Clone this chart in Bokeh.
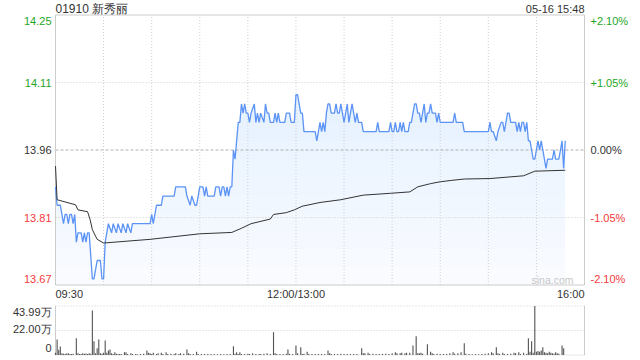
import numpy as np
from bokeh.plotting import figure
from bokeh.models import Range1d
from bokeh.core.properties import value
from bokeh.embed import file_html
from bokeh.resources import INLINE

# ---------------- data ----------------
title = "01910 新秀丽"
stamp = "05-16 15:48"
watermark = "sina.com"
prev_close = 13.96
pct_ticks = [2.10, 1.05, 0.0, -1.05, -2.10]
price_labels = ["14.25", "14.11", "13.96", "13.81", "13.67"]
pct_labels = ["+2.10%", "+1.05%", "0.00%", "-1.05%", "-2.10%"]
time_labels = ["09:30", "12:00/13:00", "16:00"]
time_label_min = [0, 150, 330]
vol_ticks = [43.99, 22.00, 0]
vol_labels = ["43.99万", "22.00万", "0"]

# minute price knots (trading minutes from 09:30, lunch removed)
px_t = [0, 1, 3, 5, 6, 7, 8, 9, 10, 11, 12, 13, 14, 16, 17, 18, 19, 20, 21, 23, 24, 25, 26, 28, 29, 30,
        31, 32, 33, 35, 36, 38, 39, 41, 42, 44, 45, 47, 48, 59, 60, 61, 62, 63, 66, 67, 74, 75, 81, 82,
        84, 85, 87, 88, 89, 90, 92, 93, 94, 95, 99, 100, 102, 103, 104, 105, 106, 107, 108, 109, 110,
        111, 112, 114, 115, 116, 117, 118, 119, 120, 121, 122, 124, 125, 126, 127, 128, 130, 131, 132,
        133, 134, 136, 137, 138, 139, 140, 143, 144, 146, 147, 149, 150, 151, 153, 154, 155, 162, 163,
        164, 165, 166, 167, 168, 169, 170, 171, 172, 174, 175, 176, 177, 178, 179, 180, 181, 182, 183,
        184, 185, 186, 187, 188, 189, 191, 192, 200, 201, 202, 208, 209, 210, 211, 212, 213, 214, 215,
        216, 217, 218, 220, 221, 222, 223, 224, 225, 226, 227, 228, 229, 230, 231, 232, 233, 234, 235,
        237, 238, 239, 240, 248, 249, 250, 254, 255, 270, 271, 272, 273, 275, 276, 278, 279, 280, 281,
        282, 283, 284, 287, 288, 289, 290, 291, 292, 293, 294, 295, 296, 297, 298, 299, 300, 301, 302,
        303, 304, 305, 306, 307, 310, 311, 312, 314, 315, 316, 317, 318]
px_v = [13.88, 13.84, 13.84, 13.80, 13.82, 13.82, 13.80, 13.82, 13.82, 13.80, 13.82, 13.76, 13.78, 13.78,
        13.76, 13.78, 13.76, 13.78, 13.78, 13.68, 13.68, 13.70, 13.72, 13.72, 13.68, 13.68,
        13.76, 13.78, 13.80, 13.78, 13.80, 13.78, 13.80, 13.78, 13.80, 13.78, 13.80, 13.78, 13.80, 13.80,
        13.82, 13.80, 13.82, 13.84, 13.84, 13.86, 13.86, 13.88, 13.88, 13.86,
        13.84, 13.86, 13.84, 13.84, 13.86, 13.88, 13.88, 13.86, 13.88, 13.86, 13.86, 13.88, 13.88, 13.86,
        13.88, 13.88, 13.86, 13.88, 13.86, 13.88, 13.88,
        13.96, 13.94, 14.02, 14.02, 14.06, 14.04, 14.06, 14.04, 14.04, 14.02, 14.04, 14.06, 14.02, 14.04,
        14.02, 14.04, 14.02, 14.06, 14.04,
        14.04, 14.02, 14.02, 14.04, 14.02, 14.04, 14.02, 14.02, 14.04, 14.04, 14.02, 14.02, 14.08, 14.08,
        14.04, 14.04, 14.00, 14.00, 13.98,
        14.00, 14.02, 14.00, 14.02, 14.00, 14.04, 14.06, 14.06, 14.04, 14.04, 14.06, 14.04, 14.04, 14.06,
        14.04, 14.02, 14.04, 14.06, 14.02,
        14.04, 14.06, 14.04, 14.02, 14.04, 14.02, 14.02, 14.00, 14.00, 14.02, 14.00, 14.00, 14.02, 14.00,
        14.00, 14.02, 14.00, 14.00, 14.02,
        14.00, 14.02, 14.00, 14.00, 14.02, 14.02, 14.04, 14.06, 14.06, 14.04, 14.04, 14.02, 14.04, 14.06,
        14.02, 14.04, 14.04, 14.06, 14.04,
        14.04, 14.02, 14.04, 14.02, 14.02, 14.04, 14.02, 14.02, 14.00, 14.00, 14.02, 14.00, 14.00, 13.98,
        14.00, 14.02, 14.02, 14.00, 14.02,
        14.04, 14.04, 14.02, 14.02, 14.00, 14.02, 14.00, 14.02, 14.02, 14.00, 14.02, 13.98, 13.98, 13.96,
        13.94, 13.94, 13.96, 13.98, 13.96,
        13.98, 13.96, 13.94, 13.92, 13.94, 13.94, 13.96, 13.94, 13.94, 13.96, 13.98, 13.92, 13.98]

# average price knots
avg_t = [0, 1, 12.5, 14, 20, 21.5, 23, 26, 30, 59, 90, 110, 116, 122, 134, 136, 144, 149, 154, 165,
         178, 192, 209, 221, 226, 234, 240, 247, 255, 271, 292, 299, 318]
avg_v = [13.925, 13.852, 13.841, 13.83, 13.826, 13.81, 13.787, 13.766, 13.758, 13.766, 13.778, 13.781,
         13.79, 13.80, 13.81, 13.82, 13.824, 13.83, 13.838, 13.846, 13.852, 13.862, 13.866, 13.869,
         13.88, 13.887, 13.891, 13.894, 13.897, 13.898, 13.904, 13.914, 13.916]

# volume (万)
vol_t = [0, 1, 2, 3, 4, 5, 6, 7, 8, 9, 10, 11, 13, 14, 15, 16, 17, 18, 19, 20, 21, 22, 23, 24, 25, 26,
         27, 28, 29, 30, 31, 32, 33, 34, 35, 36, 37, 38, 39, 40, 41, 43, 44, 45, 47, 48, 50, 51, 53, 55,
         57, 58, 59, 60, 61, 63, 64, 66, 67, 69, 70, 72, 74, 75, 77, 78, 80, 82, 83, 84, 86, 88, 89, 91,
         93, 95, 97, 99, 101, 103, 105, 107, 109, 111, 112, 113, 114, 115, 116, 118, 120, 121, 123, 125,
         127, 128, 130, 132, 134, 136, 137, 138, 140, 142, 144, 145, 146, 148, 150, 151, 153, 154, 155,
         157, 158, 160, 162, 164, 166, 168, 170, 171, 172, 174, 176, 178, 180, 182, 184, 186, 188, 191,
         192, 193, 195, 196, 198, 200, 202, 204, 206, 208, 210, 212, 213, 215, 216, 218, 219, 221, 223,
         225, 226, 227, 228, 229, 232, 234, 235, 236, 238, 240, 242, 244, 246, 248, 249, 251, 253, 255,
         256, 258, 260, 262, 264, 266, 268, 270, 272, 273, 275, 276, 277, 279, 280, 282, 284, 286, 287,
         289, 290, 292, 294, 295, 296, 297, 298, 299, 300, 301, 302, 303, 304, 305, 306, 307, 308, 309,
         310, 311, 312, 313, 314, 316, 317]
vol_v = [2.0, 13.9, 4.7, 7.6, 1.5, 1.2, 1.0, 1.3, 1.5, 1.0, 0.8, 1.2, 15.1, 1.5, 1.0, 0.8, 1.5, 1.2, 1.3,
         1.0, 1.5, 1.2, 40.0, 12.4, 1.5, 6.1, 13.9, 1.5, 1.2, 2.0, 13.0, 2.0, 4.0, 4.9, 1.5, 1.0, 2.5,
         1.2, 0.8, 1.0, 0.8, 2.5, 2.5, 1.0, 1.5, 1.0, 0.8, 0.7, 1.0, 1.2,
         4.0, 2.0, 1.5, 1.0, 2.0, 1.0, 1.5, 2.0, 1.0, 2.5, 1.0, 1.2, 1.0, 1.5, 1.0, 1.5, 1.2, 4.9, 1.5,
         1.0, 1.0, 3.0, 1.0, 1.0, 0.8, 0.8, 1.0, 0.8, 0.7, 0.8, 0.7, 0.8, 1.0, 7.9, 1.2, 2.5, 1.0, 2.5,
         1.0, 1.0, 1.2, 1.0, 1.5, 1.0, 0.8, 1.0, 1.2, 1.5, 0.8, 20.5, 1.5, 0.8, 0.8, 1.0, 1.2, 4.9, 1.0,
         1.0, 8.5, 1.5, 7.0, 1.0, 1.2, 3.0, 1.0, 0.8, 1.0, 0.8, 1.0, 0.8, 4.0, 1.5, 1.0, 0.8, 1.0, 1.2,
         0.8, 1.0, 0.8, 1.0, 0.8, 6.1, 1.5, 1.5, 2.0, 1.0, 1.2, 1.0, 0.8, 1.0, 1.2, 0.8, 1.5, 2.5, 1.5,
         1.5, 2.0, 1.5, 2.0, 2.0, 8.5, 16.9, 1.5, 1.5, 2.0, 1.2, 9.7, 3.0, 1.5, 1.0, 1.2, 1.0, 1.0, 1.0,
         1.5, 2.5, 1.2, 1.5, 2.5, 10.6, 1.2, 0.8, 0.7, 0.8, 0.7, 1.0, 1.2, 1.5, 2.5, 1.5, 7.0, 1.5, 1.0,
         2.0, 1.0, 1.0, 1.2, 2.0, 1.5, 2.5, 1.0, 2.0, 1.2, 15.1, 3.0, 12.4, 2.0, 43.99, 3.0, 3.5, 3.0,
         4.0, 7.0, 2.5, 2.0, 1.5, 3.0, 2.0, 1.5, 1.2, 2.5, 1.5, 1.2, 8.5, 6.1]

# ---------------- layout (pixels) ----------------
W, H = 640, 360
X0, X1 = 55, 584           # trading-time area, left/right
TOTAL = 330                 # trading minutes
Y_TOP, Y_BOT = 14.5, 284.5  # price area top/bottom
V_ZERO, V_TOP = 354.5, 305.5  # volume zero / max line

pr_hi = prev_close * (1 + pct_ticks[0] / 100)
pr_lo = prev_close * (1 + pct_ticks[-1] / 100)
kx = (X1 - X0) / TOTAL
ky = (Y_BOT - Y_TOP) / (pr_hi - pr_lo)
kv = (V_ZERO - V_TOP) / vol_ticks[0]


def tx(px):
    return (px - X0) / kx


def py(pix):
    return pr_hi - (pix - Y_TOP) / ky


p = figure(width=W, height=H, x_range=Range1d(tx(0), tx(W)), y_range=Range1d(py(H), py(0)),
           x_axis_type=None, y_axis_type=None, toolbar_location=None, output_backend="svg",
           min_border=0, outline_line_color=None, background_fill_color="white")
p.extra_y_ranges = {"vol": Range1d(-(H - V_ZERO) / kv, V_ZERO / kv)}
p.styles = {"position": "absolute", "left": "0px", "top": "0px"}

GREEN = "#1fa51f"
RED = "#f33b3b"
DARK = "#333333"
GRID = "#cfcfcf"
FONT = value("Liberation Sans")

# gradient area fill under the price line
pv = np.array(px_v)
p.varea(x=px_t, y1=pr_lo, y2=pv, fill_color="#5b93f5", fill_alpha=0.035)
levels = np.linspace(pr_lo, pr_hi, 16)[1:]
for lv in levels:
    p.varea(x=px_t, y1=lv, y2=np.maximum(pv, lv), fill_color="#5b93f5", fill_alpha=0.012)

# grid of price panel
grid_t = list(range(30, TOTAL, 30))
p.segment(x0=grid_t, y0=pr_lo, x1=grid_t, y1=pr_hi, line_color=GRID, line_dash="1 2", line_width=1)
lv_mid = [prev_close * (1 + v / 100) for v in pct_ticks[1:-1]]
p.segment(x0=0, y0=[lv_mid[0], lv_mid[2]], x1=TOTAL, y1=[lv_mid[0], lv_mid[2]],
          line_color=GRID, line_dash="1 2", line_width=1)
p.segment(x0=0, y0=lv_mid[1], x1=TOTAL, y1=lv_mid[1], line_color="#b0b0b0", line_dash="3 2", line_width=1)
p.line([0, TOTAL, TOTAL, 0, 0], [pr_lo, pr_lo, pr_hi, pr_hi, pr_lo], line_color="#cccccc", line_width=1)

# lines
p.line(px_t, px_v, line_color="#5b93f5", line_width=1.3)
p.line(avg_t, avg_v, line_color="#333333", line_width=1)

# volume panel
p.segment(x0=0, y0=vol_ticks[:2], x1=TOTAL, y1=vol_ticks[:2], line_color=GRID, line_dash="1 2",
          y_range_name="vol")
p.segment(x0=0, y0=0, x1=TOTAL, y1=0, line_color=GRID, line_dash="1 1", y_range_name="vol")
p.segment(x0=[0, TOTAL], y0=0, x1=[0, TOTAL], y1=vol_ticks[0], line_color="#cccccc", y_range_name="vol")
p.vbar(x=vol_t, top=vol_v, bottom=0, width=0.7, fill_color="#555555", line_color=None, y_range_name="vol")

# price / percent labels
lab_y = [prev_close * (1 + v / 100) for v in pct_ticks]
lab_c = [GREEN, GREEN, DARK, RED, RED]
lab_off = [6, 0, 0, 0, -6]
p.text(x=tx(51), y=lab_y, text=price_labels, text_color=lab_c, y_offset=lab_off, text_align="right",
       text_baseline="middle", text_font=FONT, text_font_size="11px")
p.text(x=tx(590), y=lab_y, text=pct_labels, text_color=lab_c, y_offset=lab_off, text_align="left",
       text_baseline="middle", text_font=FONT, text_font_size="11px")

# volume labels
p.text(x=tx(51), y=vol_ticks, text=vol_labels, y_offset=[5.5, -1, -7], text_color=DARK,
       text_align="right", text_baseline="middle", text_font=FONT, text_font_size="11px",
       y_range_name="vol")

# time labels
p.text(x=time_label_min, y=py(293.5), text=time_labels, text_align=["left", "center", "right"],
       text_baseline="middle", text_color=DARK, text_font=FONT, text_font_size="11px")

# title and stamp
p.text(x=[0], y=[py(8)], text=[title], text_align="left", text_baseline="middle", text_color=DARK,
       text_font=FONT, text_font_size="12px")
p.text(x=[TOTAL], y=[py(8)], text=[stamp], text_align="right", text_baseline="middle", text_color=DARK,
       text_font=FONT, text_font_size="11px")
p.text(x=[tx(573)], y=[py(279)], text=[watermark], text_align="right", text_baseline="middle",
       text_color="#c8c8c8", text_font=FONT, text_font_size="10.5px")

open("out.html", "w").write(file_html(p, INLINE))
